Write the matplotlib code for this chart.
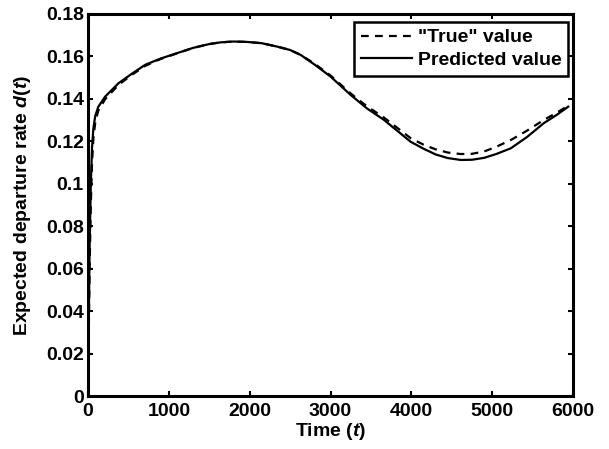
import matplotlib
matplotlib.use("Agg")
import matplotlib.pyplot as plt

plt.rcParams["font.family"] = ["Liberation Sans", "DejaVu Sans"]
plt.rcParams["font.weight"] = "bold"
plt.rcParams["mathtext.fontset"] = "custom"
plt.rcParams["mathtext.it"] = "Liberation Sans:italic:bold"
plt.rcParams["mathtext.rm"] = "Liberation Sans:bold"

# Datos
t_pred = [0, 8, 20, 35, 50, 66, 90, 128, 211, 376, 530, 706, 900, 1100, 1300,
          1500, 1640, 1800, 1970, 2150, 2340, 2500, 2630, 2800, 3000, 3250, 3450,
          3660, 3830, 3990, 4150, 4300, 4450, 4610, 4750, 4900, 5050, 5230, 5430,
          5640, 5800, 5940]
d_pred = [0.0, 0.03, 0.07, 0.10, 0.117, 0.126, 0.132, 0.1363, 0.141, 0.1473,
          0.1515, 0.156, 0.1590, 0.1615, 0.1640, 0.1658, 0.1666, 0.1670, 0.1668,
          0.1662, 0.1646, 0.1630, 0.1607, 0.1562, 0.1505, 0.1418, 0.1355, 0.1301,
          0.1248, 0.1198, 0.1165, 0.1138, 0.1121, 0.1112, 0.1113, 0.1122, 0.1140,
          0.1167, 0.1220, 0.1286, 0.1325, 0.1363]

t_true = [0, 8, 20, 35, 50, 66, 90, 128, 211, 376, 530, 706, 900, 1100, 1300,
          1500, 1640, 1800, 1970, 2150, 2340, 2500, 2630, 2800, 3000, 3250, 3450,
          3660, 3830, 3990, 4150, 4300, 4450, 4610, 4750, 4900, 5050, 5230, 5430,
          5640, 5800, 5940]
d_true = [0.0, 0.025, 0.06, 0.09, 0.110, 0.121, 0.129, 0.1345, 0.1398, 0.1465,
          0.1510, 0.1555, 0.1588, 0.1614, 0.1640, 0.1658, 0.1666, 0.1670, 0.1668,
          0.1662, 0.1646, 0.1630, 0.1607, 0.1566, 0.1510, 0.1425, 0.1365, 0.1312,
          0.1262, 0.1215, 0.1184, 0.1162, 0.1147, 0.1140, 0.1141, 0.1152, 0.1174,
          0.1206, 0.1250, 0.1301, 0.1335, 0.1368]

y_ticks = [0, 0.02, 0.04, 0.06, 0.08, 0.1, 0.12, 0.14, 0.16, 0.18]
y_labels = ["0", "0.02", "0.04", "0.06", "0.08", "0.1", "0.12", "0.14", "0.16", "0.18"]
x_ticks = [0, 1000, 2000, 3000, 4000, 5000, 6000]

FS = 14

fig = plt.figure(figsize=(6.09, 4.49), dpi=100)
ax = fig.add_axes([0.1445, 0.118, 0.7965, 0.851])

ax.plot(t_true, d_true, color="black", linestyle="--", linewidth=1.6,
        dashes=(3.5, 2.8), label='"True" value')
ax.plot(t_pred, d_pred, color="black", linestyle="-", linewidth=1.6,
        label="Predicted value")

ax.set_xlim(0, 6000)
ax.set_ylim(0, 0.18)
ax.set_xticks(x_ticks)
ax.set_yticks(y_ticks)
ax.set_yticklabels(y_labels)
ax.tick_params(direction="in", length=3.5, width=1.5, top=True, right=True,
               labelsize=FS)
ax.tick_params(axis="x", pad=5)
ax.tick_params(axis="y", pad=3)
for lab in ax.get_xticklabels() + ax.get_yticklabels():
    lab.set_fontweight("bold")
for sp in ax.spines.values():
    sp.set_linewidth(2.2)

ax.set_xlabel("Time ($t$)", fontsize=FS, fontweight="bold", labelpad=1)
ax.set_ylabel("Expected departure rate $d$($t$)", fontsize=FS, fontweight="bold",
              labelpad=9)

leg = ax.legend(loc="upper right", bbox_to_anchor=(0.99, 0.979), borderaxespad=0,
                fontsize=FS, frameon=True, fancybox=False, borderpad=0.35,
                handlelength=2.6, handletextpad=0.3, labelspacing=0.25)
leg.get_frame().set_edgecolor("black")
leg.get_frame().set_linewidth(1.8)
leg.get_frame().set_alpha(1)
for txt in leg.get_texts():
    txt.set_fontweight("bold")

fig.savefig("out.png", dpi=100)
